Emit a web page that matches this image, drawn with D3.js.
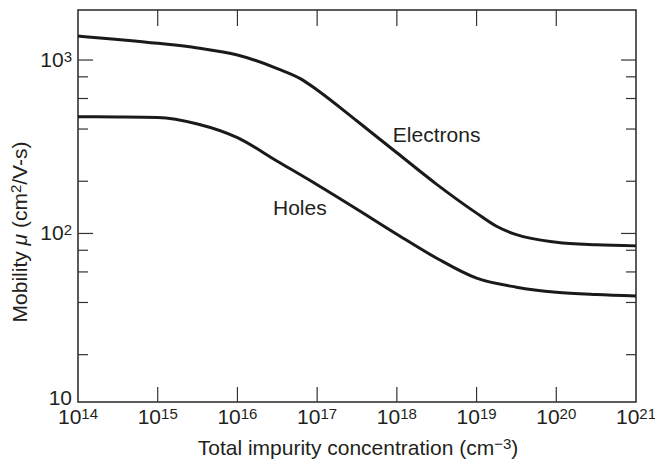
<!DOCTYPE html>
<html>
<head>
<meta charset="utf-8">
<script src="https://cdn.jsdelivr.net/npm/d3@7"></script>
<style>
  html, body { margin: 0; padding: 0; background: #fff; }
  svg { display: block; }
  text { font-family: "Liberation Sans", Arial, Helvetica, sans-serif; fill: #231f20; }
</style>
</head>
<body>
<svg id="chart" width="655" height="460"></svg>
<script>
// ---- data ----
const concentration = [1e14, 10**14.5, 1e15, 10**15.5, 1e16, 10**16.5, 10**16.8, 1e17, 10**17.5, 1e18, 10**18.5, 1e19, 10**19.25, 10**19.5, 1e20, 10**20.5, 1e21];
const electronMobility = [1375, 1313, 1248, 1174, 1069, 893, 776, 672, 445, 292, 192, 131, 110, 98.4, 89, 86, 84.8];
const holeConc = [1e14, 10**14.5, 1e15, 10**15.5, 1e16, 10**16.5, 1e17, 10**17.5, 1e18, 10**18.5, 1e19, 10**19.5, 1e20, 10**20.5, 1e21];
const holeMobility = [471, 470, 467, 428, 357, 261, 191, 138, 99, 72, 55.2, 49, 45.8, 44.4, 43.6];
const xTickExponents = [14, 15, 16, 17, 18, 19, 20, 21];
const yMajorTicks = [10, 100, 1000];
const yMajorLabels = [["10", ""], ["10", "2"], ["10", "3"]];
const yMinorTicks = [20, 40, 60, 80, 200, 400, 600, 800];
const seriesLabels = [
  { text: "Electrons", at: [10**17.95, 338] },
  { text: "Holes", at: [10**16.446, 127.5] }
];

(function () {
// ---- layout ----
const svg = d3.select("#chart");
const pLeft = 78, pRight = 636, pTop = 10, pBottom = 402;
const fs = 21, sfs = 15;

const x = d3.scaleLog().domain([1e14, 1e21]).range([pLeft, pRight]);
const y = d3.scaleLog().domain([10.67, 1943]).range([pBottom, pTop]);

// frame
svg.append("rect")
  .attr("x", pLeft).attr("y", pTop)
  .attr("width", pRight - pLeft).attr("height", pBottom - pTop)
  .attr("fill", "none").attr("stroke", "#333").attr("stroke-width", 1.6);

// x ticks (inward, bottom and top)
const xTicks = xTickExponents.map(e => 10 ** e);
const gx = svg.append("g");
xTicks.forEach((v, i) => {
  const px = x(v);
  if (i > 0 && i < xTicks.length - 1) {
    gx.append("line").attr("x1", px).attr("x2", px).attr("y1", pBottom).attr("y2", pBottom - 15)
      .attr("stroke", "#333").attr("stroke-width", 1.2);
    gx.append("line").attr("x1", px).attr("x2", px).attr("y1", pTop).attr("y2", pTop + 16)
      .attr("stroke", "#333").attr("stroke-width", 1.2);
  }
  const t = gx.append("text").attr("x", px).attr("y", 424)
    .attr("text-anchor", "middle").attr("font-size", fs);
  t.append("tspan").text("10");
  t.append("tspan").attr("dy", -5).attr("font-size", sfs).text(xTickExponents[i]);
});

// y ticks (inward, left and right)
const gy = svg.append("g");
yMajorTicks.forEach((v, i) => {
  const py = Math.min(y(v), pBottom);
  const atEdge = py >= pBottom - 1;
  if (!atEdge) {
    gy.append("line").attr("x1", pLeft).attr("x2", pLeft + 15).attr("y1", py).attr("y2", py)
      .attr("stroke", "#333").attr("stroke-width", 1.2);
    gy.append("line").attr("x1", pRight).attr("x2", pRight - 15).attr("y1", py).attr("y2", py)
      .attr("stroke", "#333").attr("stroke-width", 1.2);
  }
  const t = gy.append("text").attr("x", 72).attr("y", atEdge ? py + 3 : py + 7)
    .attr("text-anchor", "end").attr("font-size", fs);
  t.append("tspan").text(yMajorLabels[i][0]);
  if (yMajorLabels[i][1]) t.append("tspan").attr("dy", -5).attr("font-size", sfs).text(yMajorLabels[i][1]);
});
yMinorTicks.forEach(v => {
  const py = y(v);
  gy.append("line").attr("x1", pLeft).attr("x2", pLeft + 10).attr("y1", py).attr("y2", py)
    .attr("stroke", "#333").attr("stroke-width", 1.2);
  gy.append("line").attr("x1", pRight).attr("x2", pRight - 10).attr("y1", py).attr("y2", py)
    .attr("stroke", "#333").attr("stroke-width", 1.2);
});

// curves
const line = d3.line().x(d => x(d[0])).y(d => y(d[1])).curve(d3.curveMonotoneX);
svg.append("path").datum(concentration.map((c, i) => [c, electronMobility[i]]))
  .attr("d", line).attr("fill", "none").attr("stroke", "#1a1a1a").attr("stroke-width", 3);
svg.append("path").datum(holeConc.map((c, i) => [c, holeMobility[i]]))
  .attr("d", line).attr("fill", "none").attr("stroke", "#1a1a1a").attr("stroke-width", 3);

// series labels
seriesLabels.forEach(s => {
  svg.append("text").attr("x", x(s.at[0])).attr("y", y(s.at[1]))
    .attr("font-size", fs).attr("text-anchor", "start").text(s.text);
});

// x axis title
const xt = svg.append("text").attr("x", 358).attr("y", 455)
  .attr("text-anchor", "middle").attr("font-size", fs);
xt.append("tspan").text("Total impurity concentration (cm");
xt.append("tspan").attr("dy", -6).attr("font-size", sfs).text("\u22123");
xt.append("tspan").attr("dy", 6).text(")");

// y axis title
const yt = svg.append("text").attr("transform", "translate(27,232) rotate(-90)")
  .attr("text-anchor", "middle").attr("font-size", fs);
yt.append("tspan").text("Mobility ");
yt.append("tspan").attr("font-style", "italic").text("\u03bc");
yt.append("tspan").text(" (cm");
yt.append("tspan").attr("dy", -6).attr("font-size", sfs).text("2");
yt.append("tspan").attr("dy", 6).text("/V-s)");
})();
</script>
</body>
</html>
